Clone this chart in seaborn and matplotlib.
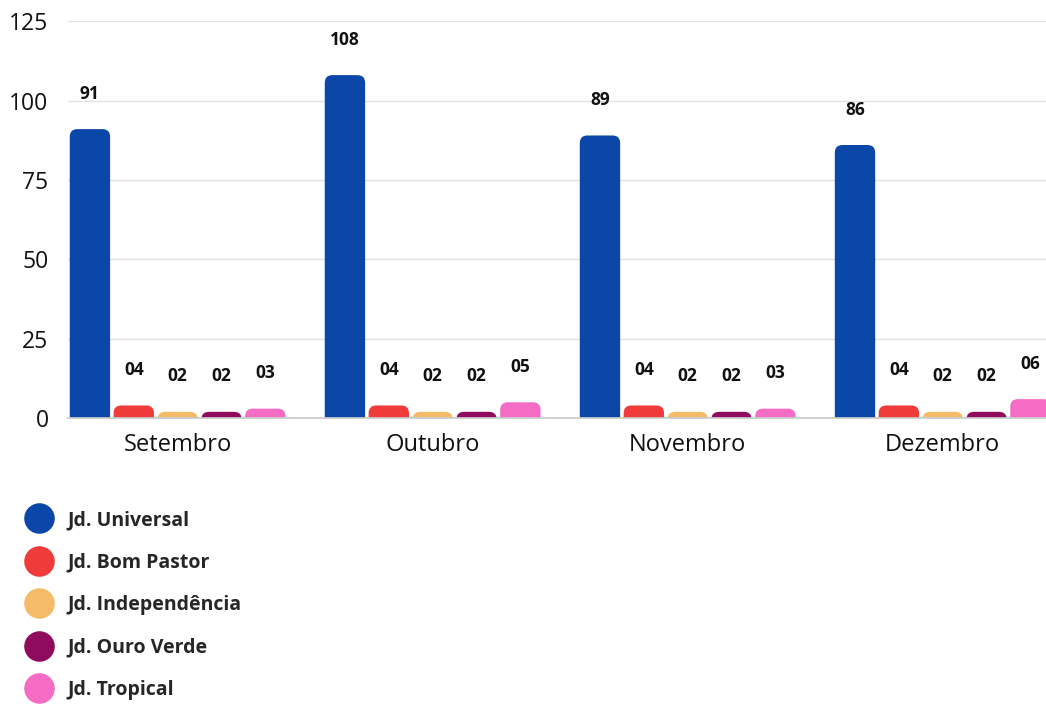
import seaborn as sns
import matplotlib.pyplot as plt
import pandas as pd
from matplotlib.patches import FancyBboxPatch
from matplotlib.lines import Line2D

# dados
meses = ["Setembro", "Outubro", "Novembro", "Dezembro"]
bairros = ["Jd. Universal", "Jd. Bom Pastor", "Jd. Independência", "Jd. Ouro Verde", "Jd. Tropical"]
universal = [91, 108, 89, 86]
bom_pastor = [4, 4, 4, 4]
independencia = [2, 2, 2, 2]
ouro_verde = [2, 2, 2, 2]
tropical = [3, 5, 3, 6]
cores = ["#0b47a8", "#f03b3b", "#f6bb68", "#8e0b5e", "#f46cc4"]

valores = [universal, bom_pastor, independencia, ouro_verde, tropical]
df = pd.DataFrame([
    {"Mes": m, "Bairro": b, "Valor": v[i]}
    for b, v in zip(bairros, valores)
    for i, m in enumerate(meses)
])

sns.set_theme(style="white")
plt.rcParams['font.family'] = ['Open Sans', 'DejaVu Sans']

fig = plt.figure(figsize=(10.46, 7.04), dpi=100)
ax = fig.add_axes([0.065, 0.406, 0.935, 0.564])

sns.barplot(data=df, x="Mes", y="Valor", hue="Bairro", palette=cores,
            width=0.86, gap=0.08, legend=False, ax=ax, saturation=1)

# cantos arredondados
for cont in ax.containers:
    for p in cont.patches:
        x0, w, h = p.get_x(), p.get_width(), p.get_height()
        r = FancyBboxPatch((x0, -3), w, h + 3,
                           boxstyle="round,pad=0,rounding_size=0.03",
                           mutation_aspect=80, facecolor=p.get_facecolor(),
                           edgecolor="none", clip_on=True)
        ax.add_patch(r)
        p.set_visible(False)

for cont in ax.containers:
    ax.bar_label(cont, labels=[f"{int(v):02d}" for v in cont.datavalues],
                 padding=19, fontsize=12.5, fontweight="bold", color="#111111")

ax.set_xlim(-0.43, 3.405)
ax.set_ylim(0, 125)
ax.set_yticks([0, 25, 50, 75, 100, 125])
ax.yaxis.grid(True, color="#e3e3e3", linewidth=1)
ax.set_axisbelow(True)
for s in ["top", "right", "left"]:
    ax.spines[s].set_visible(False)
ax.spines["bottom"].set_color("#cccccc")
ax.tick_params(axis="y", length=0, pad=14, labelsize=16.5, labelcolor="#111111")
ax.tick_params(axis="x", length=0, pad=11, labelsize=17, labelcolor="#111111")
ax.set_xlabel("")
ax.set_ylabel("")

handles = [Line2D([], [], marker="o", linestyle="", markersize=22,
                  markerfacecolor=c, markeredgecolor="none") for c in cores]
leg = fig.legend(handles, bairros, loc="upper left", bbox_to_anchor=(0.002, 0.3),
                 frameon=False, labelspacing=1.15, handletextpad=0.45,
                 prop={"weight": "bold", "size": 14})

fig.savefig("out.png", dpi=100, facecolor="white")
